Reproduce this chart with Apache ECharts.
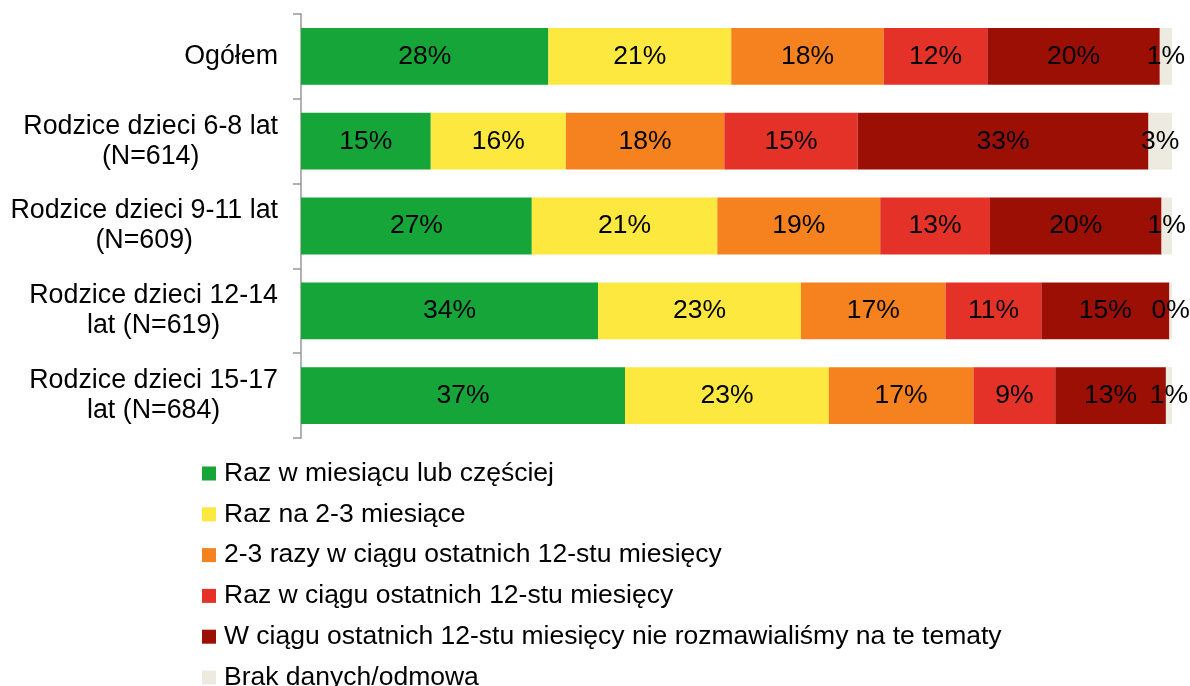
<!DOCTYPE html>
<html>
<head>
<meta charset="utf-8">
<script src="https://cdn.jsdelivr.net/npm/echarts@6/dist/echarts.min.js"></script>
<style>
  html, body { margin: 0; padding: 0; background: #fff; }
  #chart { width: 1190px; height: 686px; }
</style>
</head>
<body>
<div id="chart"></div>
<script>
var categories = [
    'Ogółem',
    'Rodzice dzieci 6-8 lat\n(N=614)',
    'Rodzice dzieci 9-11 lat\n(N=609)',
    'Rodzice dzieci 12-14\nlat (N=619)',
    'Rodzice dzieci 15-17\nlat (N=684)'
];
var seriesNames = [
    'Raz w miesiącu lub częściej',
    'Raz na 2-3 miesiące',
    '2-3 razy w ciągu ostatnich 12-stu miesięcy',
    'Raz w ciągu ostatnich 12-stu miesięcy',
    'W ciągu ostatnich 12-stu miesięcy nie rozmawialiśmy na te tematy',
    'Brak danych/odmowa'
];
// one array per answer, in category order
var razWMiesiacu  = [28.4, 14.9, 26.5, 34.1, 37.2];
var razNa23       = [21.0, 15.5, 21.3, 23.3, 23.4];
var dwaTrzyRazy   = [17.5, 18.2, 18.7, 16.6, 16.6];
var razW12        = [11.9, 15.3, 12.6, 11.0,  9.4];
var nieRozmawiali = [19.8, 33.4, 19.7, 14.7, 12.7];
var brakDanych    = [ 1.4,  2.7,  1.2,  0.3,  0.7];

var values = [razWMiesiacu, razNa23, dwaTrzyRazy, razW12, nieRozmawiali, brakDanych];
var colors = ['#15a538', '#fde840', '#f5821f', '#e53228', '#9b0f05', '#edeadf'];

var font = 'Liberation Sans, Arial, sans-serif';
var myChart = echarts.init(document.getElementById('chart'));

var series = seriesNames.map(function (name, i) {
    return {
        name: name,
        type: 'bar',
        stack: 'total',
        barWidth: '67%',
        itemStyle: { color: colors[i] },
        label: {
            show: true,
            position: 'inside',
            color: '#000',
            fontFamily: font,
            fontSize: 26.5,
            formatter: function (p) { return Math.round(p.value) + '%'; }
        },
        data: values[i]
    };
});

var option = {
    animation: false,
    grid: { left: 301, right: 18, top: 14, bottom: 248 },
    xAxis: {
        type: 'value',
        min: 0,
        max: 100,
        show: false
    },
    yAxis: {
        type: 'category',
        inverse: true,
        data: categories,
        axisLine: { show: true, lineStyle: { color: '#999', width: 1.5 } },
        axisTick: { show: true, length: 8, lineStyle: { color: '#999', width: 1.5 } },
        axisLabel: {
            margin: 23,
            color: '#000',
            fontFamily: font,
            fontSize: 26.8,
            formatter: function (v) {
                return v.split('\n').map(function (l) { return '{c|' + l + '}'; }).join('\n');
            },
            rich: {
                c: { align: 'center', fontFamily: font, fontSize: 26.8, color: '#000', lineHeight: 30 }
            }
        }
    },
    legend: {
        orient: 'vertical',
        left: 197,
        top: 455,
        height: 400,
        itemWidth: 14,
        itemHeight: 14,
        itemGap: 13.8,
        icon: 'rect',
        textStyle: { color: '#000', fontFamily: font, fontSize: 26.5, lineHeight: 26, padding: [0, 0, 0, 3] },
        data: seriesNames
    },
    series: series
};
myChart.setOption(option);
</script>
</body>
</html>
